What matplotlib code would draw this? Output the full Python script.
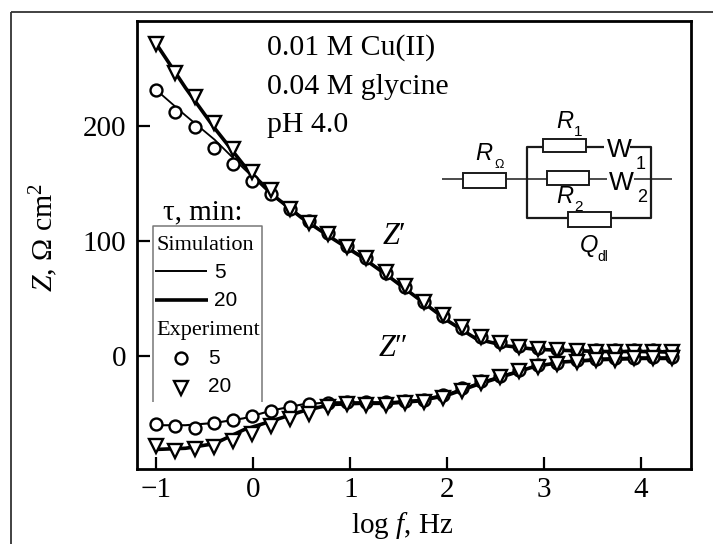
import numpy as np
import matplotlib
matplotlib.use('Agg')
import matplotlib.pyplot as plt
from matplotlib.lines import Line2D
from matplotlib.patches import Rectangle

W, H = 713, 544

# log f of the measured points
log_f = [-1.0, -0.803, -0.606, -0.409, -0.212, -0.015, 0.182, 0.379, 0.576, 0.773,
         0.97, 1.167, 1.364, 1.561, 1.758, 1.955, 2.152, 2.349, 2.546, 2.743,
         2.94, 3.137, 3.334, 3.531, 3.728, 3.925, 4.122, 4.32]

# experiment, 5 min
z_re_5 = [231, 212, 199, 181, 167, 152, 141, 128, 117, 107, 96, 85, 72, 60, 47, 35,
          24, 17, 12, 9, 7, 6, 5.5, 5, 5, 5, 5, 4.5]
z_im_5 = [-58.5, -61, -62, -58, -55.5, -52, -48, -44.5, -41.5, -40.5, -40, -40, -40,
          -39, -38, -34, -28, -22, -17, -12, -8, -6, -3.5, -2.5, -2, -1.5, -1, -1]
# experiment, 20 min
z_re_20 = [271, 246, 225, 202, 180, 160, 144, 128, 116, 106, 95, 85, 73, 61, 47, 36,
           25, 17, 11, 8, 6, 5, 4.5, 4, 4, 4, 4, 3.5]
z_im_20 = [-78, -82, -81, -79, -74, -68, -61, -55, -50, -44.5, -41.5, -42, -42.5, -41,
           -39.5, -36, -30, -23.5, -18.5, -13, -9.5, -7, -5, -3.5, -3, -2, -2, -2]

# simulation curves
sim_f = [-1.0, -0.7, -0.4, -0.1, 0.2, 0.5, 0.8, 1.1, 1.4, 1.7, 2.0, 2.3, 2.6, 2.9,
         3.2, 3.6, 4.0, 4.32]
sim_re_5 = [231, 209, 188, 163, 139, 121, 103, 88, 69, 50, 31, 15, 9, 6, 5, 4.5, 4.5, 4.5]
sim_im_5 = [-60, -60, -58, -54, -47, -42, -40, -40, -40, -38, -33, -24, -16, -9, -5, -2, -1, -1]
sim_re_20 = [271, 233, 198, 166, 140, 120, 103, 87, 69, 50, 31, 15, 9, 6, 5, 4, 4, 3.5]
sim_im_20 = [-81, -80, -76, -64, -56, -48, -42, -41, -41, -39, -34, -25, -17, -9, -5, -3, -2, -2]

x_ticks = [-1, 0, 1, 2, 3, 4]
x_labels = ['\u22121', '0', '1', '2', '3', '4']
y_ticks = [0, 100, 200]
y_labels = ['0', '100', '200']

plt.rcParams['font.family'] = ['Liberation Serif', 'DejaVu Serif']
plt.rcParams['mathtext.fontset'] = 'custom'
plt.rcParams['mathtext.rm'] = 'Liberation Serif'
plt.rcParams['mathtext.it'] = 'Liberation Serif:italic'

fig = plt.figure(figsize=(W / 100, H / 100), dpi=100)
ax = fig.add_axes([137 / W, 1 - 469 / H, (691 - 137) / W, (469 - 21) / H])
ax.set_xlim(-1.2, 4.515)
ax.set_ylim(-98, 291)


def px_line(xs, ys, lw=1.3, color='#1a1a1a', z=5):
    fig.add_artist(Line2D([x / W for x in xs], [1 - y / H for y in ys], lw=lw, color=color,
                          zorder=z, solid_capstyle='butt'))


def px_text(x, y, s, size, **kw):
    fig.text(x / W, 1 - y / H, s, fontsize=size, va='center', zorder=6, **kw)


def px_box(x0, y0, x1, y1):
    fig.add_artist(Rectangle((x0 / W, 1 - y1 / H), (x1 - x0) / W, (y1 - y0) / H, fc='white',
                             ec='#1a1a1a', lw=1.4, zorder=5.5))


ax.plot(sim_f, sim_re_5, color='k', lw=1.3)
ax.plot(sim_f, sim_im_5, color='k', lw=1.5)
ax.plot(sim_f, sim_re_20, color='k', lw=2.6)
ax.plot(sim_f, sim_im_20, color='k', lw=2.6)
marks = dict(ls='none', mfc='white', mec='k', mew=1.7)
ax.plot(log_f, z_re_5, marker='o', ms=8.6, **marks)
ax.plot(log_f, z_im_5, marker='o', ms=8.6, **marks)
ax.plot(log_f, z_re_20, marker='v', ms=10.5, **marks)
ax.plot(log_f, z_im_20, marker='v', ms=10.5, **marks)

ax.set_xticks(x_ticks, x_labels, fontsize=21)
ax.set_yticks(y_ticks, y_labels, fontsize=21)
ax.tick_params(axis='x', direction='in', length=9, width=1.6, pad=6)
ax.tick_params(axis='y', direction='in', length=9, width=1.6, pad=8)
for s in ax.spines.values():
    s.set_linewidth(2)
ax.set_xlabel('log $f$, Hz', fontsize=21, labelpad=5, x=0.478)
ax.set_ylabel('$Z$, \u03a9 cm$^2$', fontsize=21.5, labelpad=16, y=0.518)

px_text(267, 48, '0.01 M Cu(II)', 21.5)
px_text(267, 87, '0.04 M glycine', 21.5)
px_text(267, 125, 'pH 4.0', 21.5)
px_text(382, 237, '$Z\u2032$', 22)
px_text(378, 349, '$Z\u2033$', 22)

# legend, box is open at the bottom
px_text(163, 212, '\u03c4, min:', 21)
px_line([153, 153, 262, 262], [402, 226, 226, 402], lw=1.1, color='#777777')
px_text(156, 245, 'Simulation', 16)
px_line([155, 207], [271, 271], lw=1.4, color='k')
px_text(214, 272, '5', 15, family='Liberation Sans')
px_line([155, 208], [300, 300], lw=2.6, color='k')
px_text(214, 301, '20', 15, family='Liberation Sans')
px_text(156, 331, 'Experiment', 16)
fig.add_artist(Line2D([181 / W], [1 - 358 / H], marker='o', mfc='white', mec='k', mew=1.7, ms=8.6, ls='none'))
px_text(208, 358, '5', 15, family='Liberation Sans')
fig.add_artist(Line2D([181 / W], [1 - 388 / H], marker='v', mfc='white', mec='k', mew=1.7, ms=10.5, ls='none'))
px_text(208, 387, '20', 15, family='Liberation Sans')

# equivalent circuit
px_line([442, 607], [179, 179], lw=1.1)
px_line([634, 672], [179, 179], lw=1.1)
px_line([630, 651, 651, 527, 527, 604], [147, 147, 218, 218, 147, 147], lw=1.6)
px_box(463, 173, 506, 188)
px_box(543, 139, 586, 152)
px_box(547, 171, 589, 185)
px_box(568, 212, 611, 227)
sans = dict(family='Liberation Sans')
ital = dict(family='Liberation Sans', style='italic')
px_text(475, 153, 'R', 17, **ital)
px_text(494, 165, '\u03a9', 9, **sans)
px_text(556, 122, 'R', 17, **ital)
px_text(574, 132, '1', 11, **sans)
px_text(556, 197, 'R', 17, **ital)
px_text(574, 207, '2', 11, **sans)
px_text(607, 150, 'W', 19, **sans)
px_text(636, 165, '1', 13, **sans)
px_text(609, 183, 'W', 19, **sans)
px_text(637, 198, '2', 13, **sans)
px_text(580, 245, 'Q', 17, **ital)
px_text(597, 257, 'dl', 10, **sans)

# thin frame of the page
px_line([11, 11], [H, 12], lw=1.3, color='#333333')
px_line([11, W], [12, 12], lw=1.3, color='#333333')

fig.savefig('out.png', dpi=100)
